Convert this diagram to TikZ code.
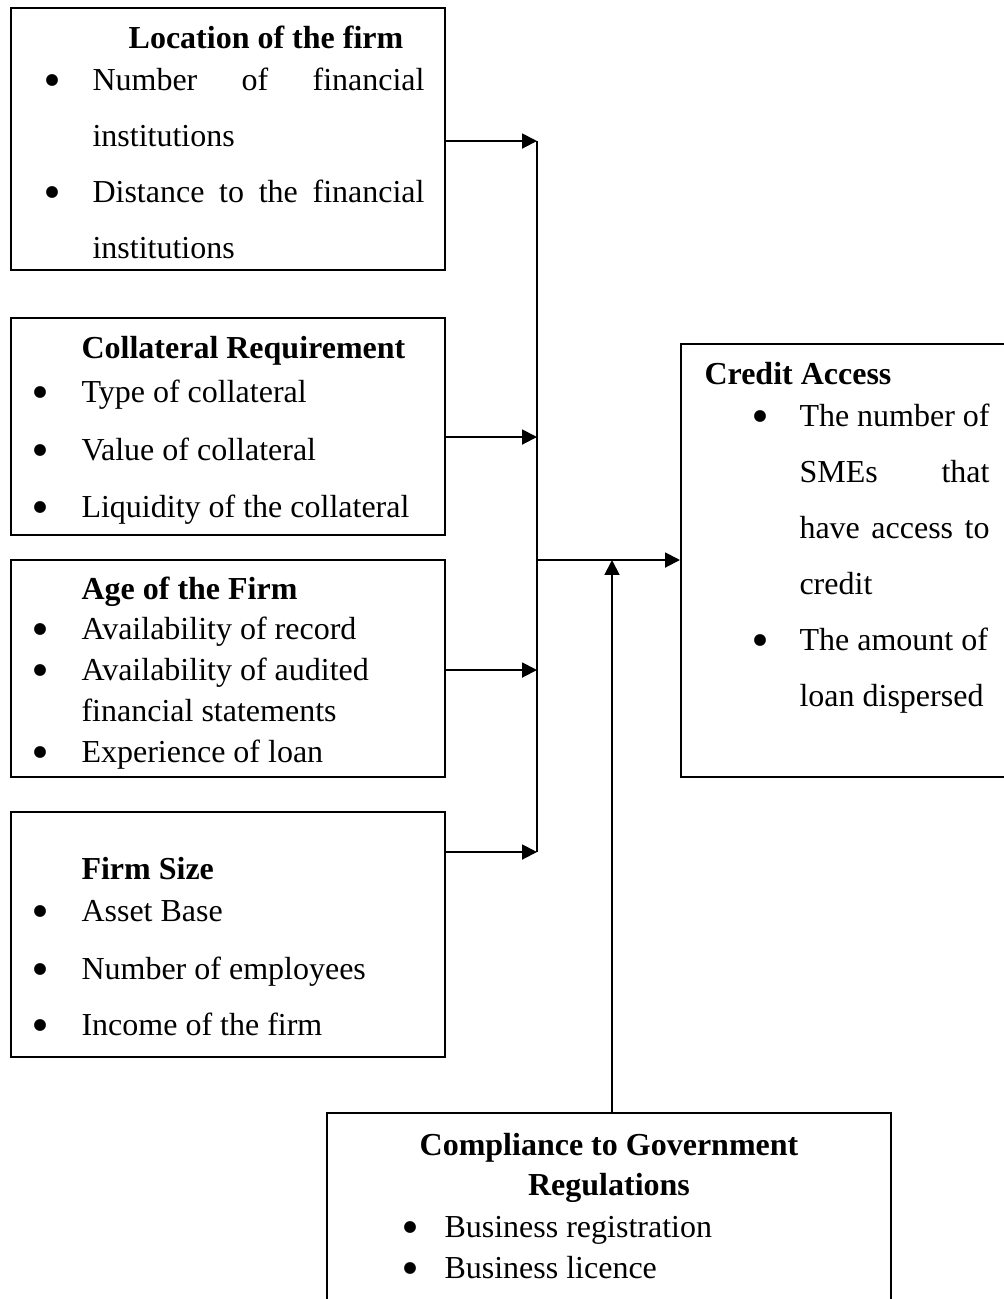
\documentclass[tikz,border=0pt]{standalone}
\usepackage{fontspec}
\setmainfont{Liberation Serif}
\newfontfamily\dotfont{DejaVu Sans}
\usetikzlibrary{arrows.meta,fit}

\tikzset{
  box/.style={draw, line width=0.75pt, inner sep=0pt},
  txt/.style={anchor=base west, inner sep=0pt, font=\fontsize{12}{14}\selectfont},
  head/.style={txt, font=\fontsize{12}{14}\selectfont\bfseries},
  dot/.style={anchor=base, inner sep=0pt, font=\dotfont\fontsize{5.8}{7}\selectfont},
  arr/.style={line width=0.75pt, -{Triangle[length=5.6pt,width=5.6pt]}}
}
\newcommand{\bul}{\raisebox{2pt}{●}}

\begin{document}
\begin{tikzpicture}[x=0.375pt,y=0.375pt,yscale=-1,xscale=1]
\useasboundingbox (0,0) rectangle (1004,1299);

%Shape: Rectangle [loc]
\node [box, fit={(11,8) (445,270)}] (loc) {};
%Shape: Rectangle [coll]
\node [box, fit={(11,318) (445,535)}] (coll) {};
%Shape: Rectangle [age]
\node [box, fit={(11,560) (445,777)}] (age) {};
%Shape: Rectangle [size]
\node [box, fit={(11,812) (445,1057)}] (size) {};
%Shape: Rectangle [credit]
\node [box, fit={(681,344) (1015,777)}] (credit) {};
%Shape: Rectangle [comply]
\node [box, fit={(327,1113) (891,1330)}] (comply) {};

% junctions
\coordinate (j1) at (537,141);
\coordinate (j2) at (537,437);
\coordinate (j3) at (537,670);
\coordinate (j4) at (537,852);
\coordinate (hub) at (537,560);
\coordinate (up) at (612,560);

%Straight Lines
\draw [arr] (loc.east |- j1) -- (j1);
\draw [arr] (coll.east |- j2) -- (j2);
\draw [arr] (age.east |- j3) -- (j3);
\draw [arr] (size.east |- j4) -- (j4);
\draw [line width=0.75pt] (j1) -- (j4);
\draw [arr] (hub) -- (credit.west |- hub);
\draw [arr] (comply.north -| up) -- (up);

% Text Node
\node [head, anchor=base] (locH) at (266,48) {Location of the firm};
\node [dot] (locB1) at (52,90) {\bul};
\node [txt] (locL1) at (92,90) {\makebox[124.5pt][s]{Number of financial}};
\node [txt] (locL2) at (92,146) {institutions};
\node [dot] (locB2) at (52,202) {\bul};
\node [txt] (locL3) at (92,202) {\makebox[124.5pt][s]{Distance to the financial}};
\node [txt] (locL4) at (92,258) {institutions};

% Text Node
\node [head] (collH) at (81,358) {Collateral Requirement};
\node [dot] (collB1) at (40,402) {\bul};
\node [txt] (collL1) at (81,402) {Type of collateral};
\node [dot] (collB2) at (40,460) {\bul};
\node [txt] (collL2) at (81,460) {Value of collateral};
\node [dot] (collB3) at (40,517) {\bul};
\node [txt] (collL3) at (81,517) {Liquidity of the collateral};

% Text Node
\node [head] (ageH) at (81,599) {Age of the Firm};
\node [dot] (ageB1) at (40,639) {\bul};
\node [txt] (ageL1) at (81,639) {Availability of record};
\node [dot] (ageB2) at (40,680) {\bul};
\node [txt] (ageL2) at (81,680) {Availability of audited};
\node [txt] (ageL3) at (81,721) {financial statements};
\node [dot] (ageB3) at (40,762) {\bul};
\node [txt] (ageL4) at (81,762) {Experience of loan};

% Text Node
\node [head] (sizeH) at (81,879) {Firm Size};
\node [dot] (sizeB1) at (40,921) {\bul};
\node [txt] (sizeL1) at (81,921) {Asset Base};
\node [dot] (sizeB2) at (40,979) {\bul};
\node [txt] (sizeL2) at (81,979) {Number of employees};
\node [dot] (sizeB3) at (40,1035) {\bul};
\node [txt] (sizeL3) at (81,1035) {Income of the firm};

% Text Node
\node [head] (credH) at (704,384) {Credit Access};
\node [dot] (credB1) at (760,426) {\bul};
\node [txt] (credL1) at (799,426) {\makebox[71.25pt][s]{The number of}};
\node [txt] (credL2) at (799,482) {\makebox[71.25pt][s]{SMEs that}};
\node [txt] (credL3) at (799,538) {\makebox[71.25pt][s]{have access to}};
\node [txt] (credL4) at (799,594) {credit};
\node [dot] (credB2) at (760,650) {\bul};
\node [txt] (credL5) at (799,650) {The amount of};
\node [txt] (credL6) at (799,706) {loan dispersed};

% Text Node
\node [head, anchor=base] (compH1) at (609,1155) {Compliance to Government};
\node [head, anchor=base] (compH2) at (609,1195) {Regulations};
\node [dot] (compB1) at (410,1237) {\bul};
\node [txt] (compL1) at (444,1237) {Business registration};
\node [dot] (compB2) at (410,1278) {\bul};
\node [txt] (compL2) at (444,1278) {Business licence};

\end{tikzpicture}
\end{document}
